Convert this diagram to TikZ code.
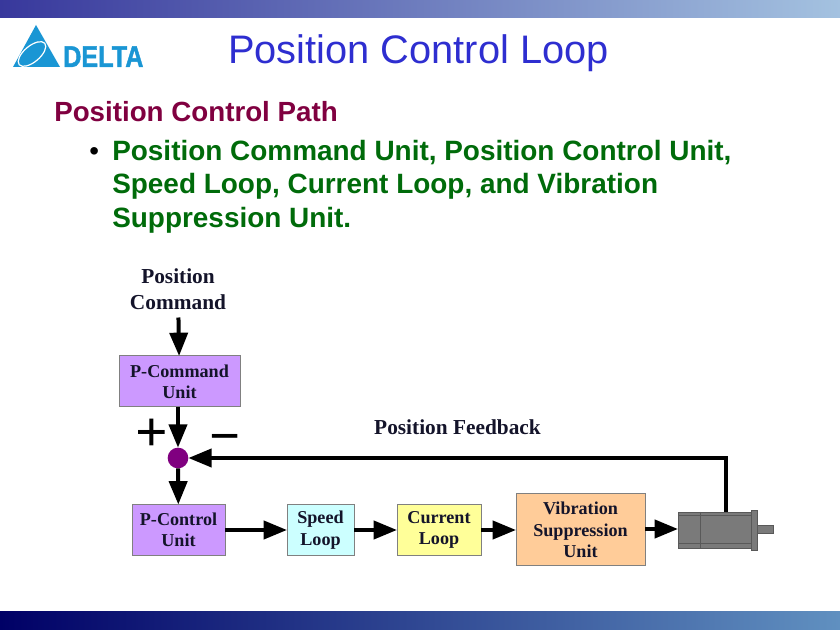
\documentclass[tikz,border=0pt]{standalone}
\usepackage{fontspec}
\setmainfont{Liberation Sans}
\newfontfamily\labelfont{Liberation Serif}
\usetikzlibrary{arrows.meta,shapes.geometric}
\definecolor{titleblue}{HTML}{2E2ED0}
\definecolor{pathred}{HTML}{800040}
\definecolor{itemgreen}{HTML}{006B0A}
\definecolor{logoblue}{HTML}{1A96D4}
\definecolor{unitviolet}{HTML}{CC99FF}
\definecolor{loopcyan}{HTML}{CCFFFF}
\definecolor{loopyellow}{HTML}{FFFF99}
\definecolor{unitorange}{HTML}{FFCC99}
\definecolor{motorgrey}{HTML}{7A7A7A}
\definecolor{sumpurple}{HTML}{800080}
\definecolor{topleft}{HTML}{38389C}
\definecolor{topright}{HTML}{A4C2E0}
\definecolor{botleft}{HTML}{000066}
\definecolor{botright}{HTML}{6090C0}
\definecolor{inkblack}{HTML}{14142A}
\tikzset{
    unitbox/.style={draw=gray, line width=0.75pt, inner sep=0pt, outer sep=0pt, align=center,
        font=\labelfont\fontsize{13.6}{16}\selectfont\bfseries, text=inkblack},
    flow/.style={line width=3pt, -{Triangle[length=17.5pt,width=13.5pt]}},
    motorpart/.style={draw=black!65, line width=0.5pt, fill=motorgrey, inner sep=0pt, outer sep=0pt}
}
\begin{document}
\begin{tikzpicture}
    [
        x=0.75pt, y=-0.75pt,
        difflabel/.style={font=\labelfont\fontsize{16}{19.5}\selectfont\bfseries, text=inkblack, align=center, inner sep=0pt}
    ]
    \useasboundingbox (0,0) rectangle (840,630);

    % bars
    \shade[left color=topleft, right color=topright] (0,0) rectangle (840,18);
    \shade[left color=botleft, right color=botright] (0,612) rectangle (840,630);

    % logo
    \fill[logoblue] (36,25) -- (60,67) -- (13,67) -- cycle;
    \node (logoring) [draw=white, line width=0.9pt, ellipse, rotate=40, minimum width=25pt, minimum height=12pt, inner sep=0pt] at (32,54) {};
    \node (logotext) [anchor=base west, inner sep=0pt, text=logoblue, xscale=0.84, font=\fontsize{22.5}{23}\selectfont\bfseries\addfontfeature{FakeBold=1.5}] at (63,67) {DELTA};

    % headings
    \node (title) [anchor=base west, inner sep=0pt, text=titleblue, font=\fontsize{29.85}{30}\selectfont] at (228,64) {Position Control Loop};
    \node (pathhead) [anchor=base west, inner sep=0pt, text=pathred, font=\fontsize{20.8}{25}\selectfont\bfseries] at (54,122) {Position Control Path};
    \node (bullet) [anchor=base west, inner sep=0pt, font=\fontsize{20.8}{25}\selectfont] at (89,161) {•};
    \node (pathitem) [anchor=north west, inner sep=0pt, text=itemgreen, align=left, font=\fontsize{20.95}{25.1}\selectfont\bfseries] at (112,140)
        {Position Command Unit, Position Control Unit,\\Speed Loop, Current Loop, and Vibration\\Suppression Unit.};

    % blocks
    \node (poscmd) [difflabel, outer sep=6pt] at (178,289) {Position\\Command};
    \node (pcmd) [unitbox, fill=unitviolet, minimum width=90.75pt, minimum height=38.25pt] at (179.5,381.5) {P-Command\\Unit};
    \node (sum) [circle, fill=sumpurple, minimum size=15.5pt, inner sep=0pt, outer sep=0pt] at (178,458) {};
    \node (pctrl) [unitbox, fill=unitviolet, minimum width=69.75pt, minimum height=38.25pt] at (178.5,530) {P-Control\\Unit};
    \node (speed) [unitbox, fill=loopcyan, minimum width=50.25pt, minimum height=38.25pt] at (320.5,530) {Speed\\Loop};
    \node (current) [unitbox, fill=loopyellow, minimum width=63pt, minimum height=38.25pt] at (439,530) {Current\\Loop};
    \node (vib) [unitbox, fill=unitorange, minimum width=96.75pt, minimum height=54pt] at (580.5,530) {Vibration\\Suppression\\Unit};

    % motor
    \node (motor) [motorpart, minimum width=54.75pt, minimum height=27pt] at (714.5,530) {};
    \node (flange) [motorpart, minimum width=4.5pt, minimum height=30pt] at (754,530) {};
    \node (shaft) [motorpart, minimum width=12pt, minimum height=6pt] at (765,529) {};
    \coordinate (motortap) at (726,512);
    \coordinate (motorin) at (678,529);
    \draw[black!65, line width=0.75pt] (700,512) -- (700,548);
    \draw[black!65, line width=0.75pt] (678,516) -- (751,516) (678,544) -- (751,544);

    % labels
    \node (plus) [font=\labelfont\fontsize{43}{43}\selectfont\bfseries, inner sep=0pt] at (152,435) {+};
    \node (minus) [font=\labelfont\fontsize{41}{41}\selectfont\bfseries, inner sep=0pt] at (225,444) {−};
    \node (fblabel) [difflabel] at (457.5,427) {Position Feedback};

    % connectors
    \draw[flow] (poscmd) -- (pcmd);
    \draw[flow] (pcmd.south -| sum) -- (sum);
    \draw[flow] (sum) -- (pctrl);
    \draw[flow] (pctrl) -- (speed);
    \draw[flow] (speed) -- (current);
    \draw[flow] (current) -- (vib);
    \draw[flow] (vib.east |- motorin) -- (motorin);
    \draw[flow] (motortap) |- (sum);
\end{tikzpicture}
\end{document}
